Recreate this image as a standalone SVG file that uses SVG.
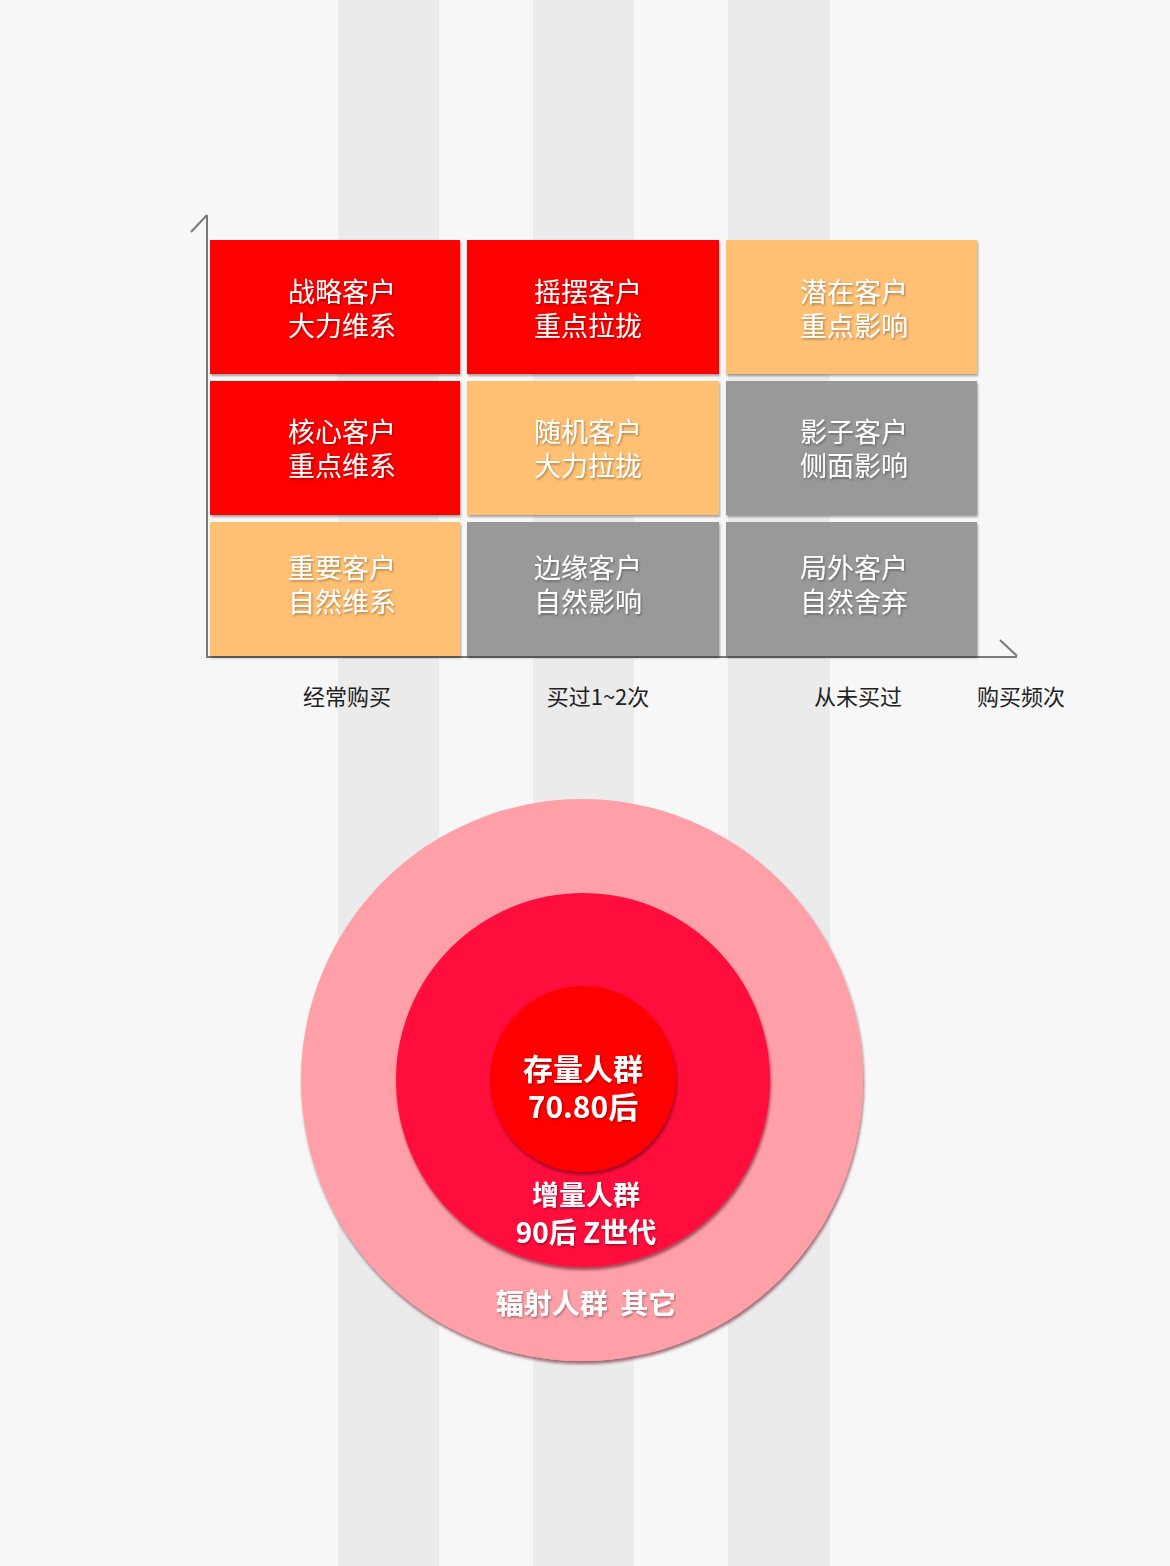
<svg xmlns="http://www.w3.org/2000/svg" width="1170" height="1566" viewBox="0 0 1170 1566">
<defs>
<style>
.stripe{fill:#ebebeb}
.cell text{font-family:"Noto Sans CJK SC","Noto Sans",sans-serif;font-size:27px;fill:#ffffff;text-anchor:middle;filter:url(#ts)}
.red{fill:#ff0000}
.org{fill:#ffc073}
.gry{fill:#999999}
.axis{stroke:#7a7a7a;stroke-width:2;fill:none}
.lbl{font-family:"Noto Sans CJK SC","Noto Sans",sans-serif;font-size:22px;fill:#222;text-anchor:middle}
.ct{font-family:"Noto Sans CJK SC","Noto Sans",sans-serif;font-weight:bold;fill:#ffffff;text-anchor:middle;filter:url(#ts)}
</style>
<filter id="sh" x="-5%" y="-5%" width="110%" height="115%">
<feDropShadow dx="1" dy="2" stdDeviation="1" flood-color="#000" flood-opacity="0.35"/>
</filter>
<filter id="csh" x="-10%" y="-10%" width="120%" height="120%">
<feDropShadow dx="1" dy="3" stdDeviation="1.5" flood-color="#5a0010" flood-opacity="0.55"/>
</filter>
<filter id="ts" x="-10%" y="-20%" width="120%" height="140%">
<feDropShadow dx="1" dy="1.5" stdDeviation="0.8" flood-color="#000" flood-opacity="0.35"/>
</filter>
</defs>
<rect width="1170" height="1566" fill="#f7f7f7"/>
<rect class="stripe" x="338" y="0" width="101" height="1566"/>
<rect class="stripe" x="533" y="0" width="101" height="1566"/>
<rect class="stripe" x="728" y="0" width="102" height="1566"/>

<g id="connectors">
<path class="axis" d="M207 215 V657 H1017"/>
<path class="axis" d="M207 215 L191 232"/>
<path class="axis" d="M1017 656 L1000 640"/>
</g>

<g id="cell-r1c1" class="cell"><rect class="red" x="210" y="240" width="250" height="134" filter="url(#sh)"/><text x="342" y="302">战略客户</text><text x="342" y="336">大力维系</text></g>
<g id="cell-r1c2" class="cell"><rect class="red" x="467" y="240" width="252" height="134" filter="url(#sh)"/><text x="588" y="302">摇摆客户</text><text x="588" y="336">重点拉拢</text></g>
<g id="cell-r1c3" class="cell"><rect class="org" x="726" y="240" width="251" height="134" filter="url(#sh)"/><text x="854" y="302">潜在客户</text><text x="854" y="336">重点影响</text></g>
<g id="cell-r2c1" class="cell"><rect class="red" x="210" y="381" width="250" height="134" filter="url(#sh)"/><text x="342" y="442">核心客户</text><text x="342" y="476">重点维系</text></g>
<g id="cell-r2c2" class="cell"><rect class="org" x="467" y="381" width="252" height="134" filter="url(#sh)"/><text x="588" y="442">随机客户</text><text x="588" y="476">大力拉拢</text></g>
<g id="cell-r2c3" class="cell"><rect class="gry" x="726" y="381" width="251" height="134" filter="url(#sh)"/><text x="854" y="442">影子客户</text><text x="854" y="476">侧面影响</text></g>
<g id="cell-r3c1" class="cell"><rect class="org" x="210" y="522" width="250" height="134" filter="url(#sh)"/><text x="342" y="578">重要客户</text><text x="342" y="612">自然维系</text></g>
<g id="cell-r3c2" class="cell"><rect class="gry" x="467" y="522" width="252" height="134" filter="url(#sh)"/><text x="588" y="578">边缘客户</text><text x="588" y="612">自然影响</text></g>
<g id="cell-r3c3" class="cell"><rect class="gry" x="726" y="522" width="251" height="134" filter="url(#sh)"/><text x="854" y="578">局外客户</text><text x="854" y="612">自然舍弃</text></g>

<g id="labels">
<text class="lbl" x="347" y="705">经常购买</text>
<text class="lbl" x="598" y="705">买过1~2次</text>
<text class="lbl" x="858" y="705">从未买过</text>
<text class="lbl" x="1021" y="705">购买频次</text>
</g>

<g id="circle-outer">
<circle cx="582" cy="1080" r="281" fill="#ffa0a8" filter="url(#csh)"/>
<text class="ct" x="586" y="1314" font-size="28" fill="#fff2f2" xml:space="preserve">辐射人群  其它</text>
</g>
<g id="circle-middle">
<circle cx="583" cy="1080" r="187" fill="#ff0f3c" filter="url(#csh)"/>
<text class="ct" x="586" y="1205" font-size="27">增量人群</text>
<text class="ct" x="586" y="1243" font-size="28">90后 Z世代</text>
</g>
<g id="circle-inner">
<circle cx="583" cy="1079" r="93" fill="#ff0000" filter="url(#csh)"/>
<text class="ct" x="583" y="1080" font-size="30" font-weight="normal">存量人群</text>
<text class="ct" x="583" y="1118" font-size="30">70.80后</text>
</g>
</svg>
